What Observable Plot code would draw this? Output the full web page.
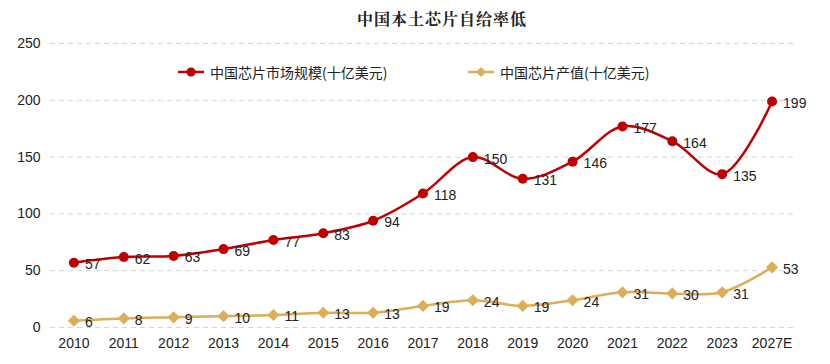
<!DOCTYPE html>
<html>
<head>
<meta charset="utf-8">
<script src="https://cdn.jsdelivr.net/npm/d3@7"></script>
<script src="https://cdn.jsdelivr.net/npm/@observablehq/plot@0.6"></script>
<style>
  body { margin: 0; background: #fff; }
  #wrap { position: relative; width: 830px; height: 364px; overflow: hidden; }
  #title { position: absolute; top: 7px; left: 0; width: 884px; text-align: center;
    font-family: "Noto Serif CJK SC", "Noto Sans CJK SC", serif; font-size: 16px; font-weight: bold; color: #222; letter-spacing: 1px; }
  #legend { position: absolute; top: 62px; left: 0; width: 830px; height: 20px;
    font-family: "Noto Sans CJK SC", sans-serif; font-size: 14px; color: #222; }
  .item { position: absolute; top: 0; display: flex; align-items: center; height: 20px; }
  .item svg { margin-right: 6px; }
  #chart { position: absolute; top: 0; left: 0; }
</style>
</head>
<body>
<div id="wrap">
  <div id="chart"></div>
  <div id="title">中国本土芯片自给率低</div>
  <div id="legend"></div>
</div>
<script>
const years = ["2010","2011","2012","2013","2014","2015","2016","2017","2018","2019","2020","2021","2022","2023","2027E"];
const marketSize = [57,62,63,69,77,83,94,118,150,131,146,177,164,135,199];
const output = [6,8,9,10,11,13,13,19,24,19,24,31,30,31,53];
const yTicks = [0,50,100,150,200,250];
const seriesNames = ["中国芯片市场规模(十亿美元)", "中国芯片产值(十亿美元)"];
const colors = ["#C00000", "#DDAE58"];

const market = years.map((y, i) => ({year: y, value: marketSize[i]}));
const prod = years.map((y, i) => ({year: y, value: output[i]}));

const chart = Plot.plot({
  width: 830,
  height: 364,
  marginTop: 43,
  marginBottom: 37,
  marginLeft: 50,
  marginRight: 35,
  style: {fontFamily: "'Liberation Sans', Arial, sans-serif", fontSize: "14px", color: "#222", background: "#fff"},
  x: {type: "point", domain: years, padding: 0.47, round: false, label: null},
  y: {domain: [0, 250], label: null},
  marks: [
    Plot.ruleY(yTicks, {stroke: "#d4d4d4", strokeDasharray: "5,4", strokeWidth: 1}),
    Plot.axisY(yTicks, {tickSize: 0, tickPadding: 10, label: null, fontSize: 14}),
    Plot.axisX({tickSize: 0, tickPadding: 11, label: null, fontSize: 14}),
    Plot.line(prod, {x: "year", y: "value", curve: "catmull-rom", stroke: colors[1], strokeWidth: 2.5}),
    Plot.dot(prod, {x: "year", y: "value", symbol: "diamond2", r: 5.5, fill: colors[1], stroke: "none"}),
    Plot.text(prod, {x: "year", y: "value", text: d => String(d.value), dx: 11, dy: 2, textAnchor: "start", fill: "#222", fontSize: 14}),
    Plot.line(market, {x: "year", y: "value", curve: "catmull-rom", stroke: colors[0], strokeWidth: 2.5}),
    Plot.dot(market, {x: "year", y: "value", r: 5, fill: colors[0], stroke: "none"}),
    Plot.text(market, {x: "year", y: "value", text: d => String(d.value), dx: 11, dy: 2, textAnchor: "start", fill: "#222", fontSize: 14})
  ]
});
document.getElementById("chart").appendChild(chart);

// legend
const legend = document.getElementById("legend");
const legendX = [178, 468];
seriesNames.forEach((name, i) => {
  const item = document.createElement("div");
  item.className = "item";
  item.style.left = legendX[i] + "px";
  const sym = i === 0
    ? `<circle cx="13" cy="10" r="4.5" fill="${colors[0]}"/>`
    : `<path d="M13 5 L18 10 L13 15 L8 10 Z" fill="${colors[1]}"/>`;
  item.innerHTML = `<svg width="26" height="20"><line x1="0" x2="26" y1="10" y2="10" stroke="${colors[i]}" stroke-width="2.5"/>${sym}</svg><span>${name}</span>`;
  legend.appendChild(item);
});
</script>
</body>
</html>
